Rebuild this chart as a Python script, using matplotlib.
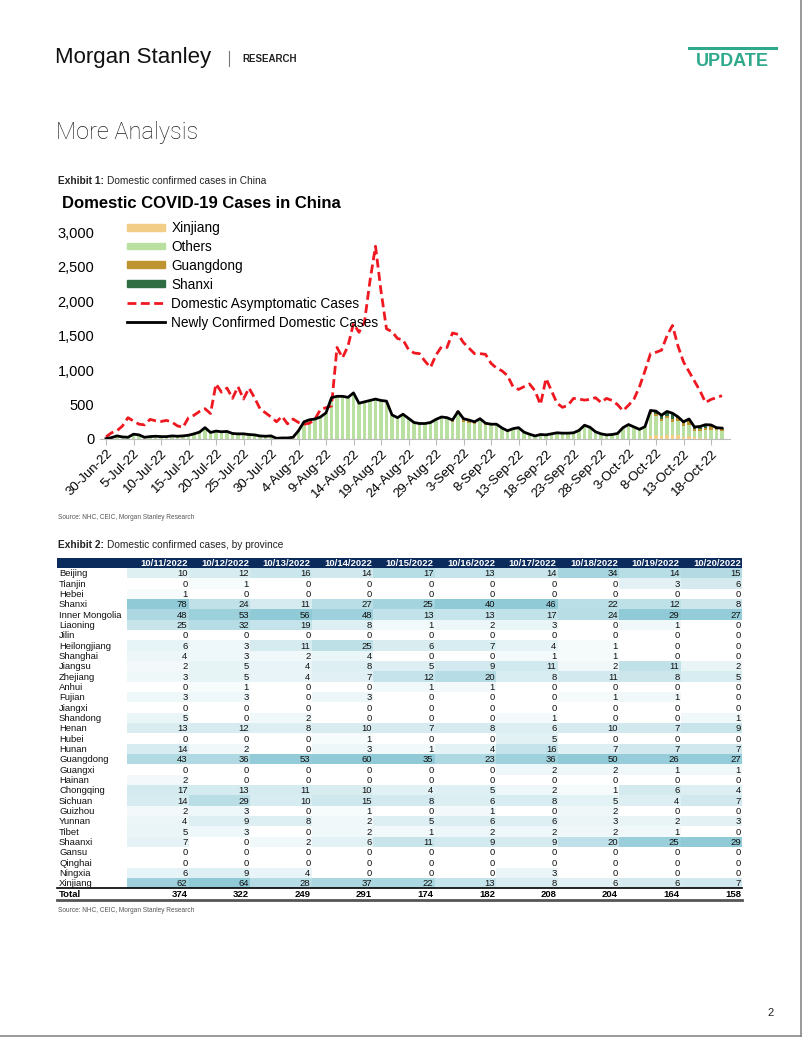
import numpy as np
import pandas as pd
import matplotlib
matplotlib.use("Agg")
from matplotlib import pyplot as plt
from matplotlib.patches import Rectangle, Patch
from matplotlib.lines import Line2D
from matplotlib.colors import LinearSegmentedColormap

plt.rcParams['font.family'] = ['Liberation Sans', 'DejaVu Sans']

# ---------------- data: exhibit 1 (daily, 30-Jun-22 .. 20-Oct-22) ----------------
dates = pd.date_range("2022-06-30", "2022-10-20", freq="D")

confirmed = [5, 20, 45, 30, 25, 70, 60, 25, 35, 40,
             35, 35, 45, 40, 45, 55, 75, 100, 165, 95,
             115, 105, 110, 80, 75, 75, 65, 60, 45, 40,
             45, 10, 15, 15, 25, 120, 250, 280, 290, 320,
             380, 600, 620, 620, 605, 670, 520, 540, 560, 580,
             560, 550, 350, 310, 360, 300, 240, 225, 225, 240,
             285, 320, 310, 275, 400, 295, 275, 250, 295, 230,
             215, 215, 160, 120, 150, 165, 100, 70, 45, 65,
             60, 75, 90, 85, 85, 90, 125, 200, 170, 105,
             75, 60, 65, 80, 165, 210, 175, 140, 180, 415,
             405, 345, 400, 374, 322, 249, 291, 174, 182, 208,
             204, 164, 158]

asymptomatic = [30, 90, 120, 190, 310, 260, 215, 205, 285, 265,
                255, 270, 245, 190, 170, 310, 345, 400, 440, 370,
                800, 680, 740, 590, 760, 580, 740, 600, 440, 380,
                320, 250, 330, 220, 290, 240, 215, 230, 290, 430,
                455, 480, 1330, 1180, 1350, 1680, 1550, 1700, 2300, 2800,
                2150, 1600, 1560, 1460, 1440, 1300, 1250, 1240, 1130, 1040,
                1220, 1340, 1330, 1540, 1520, 1400, 1320, 1240, 1240, 1230,
                1100, 1030, 990, 920, 760, 720, 760, 800, 700, 500,
                880, 700, 520, 460, 490, 590, 580, 565, 575, 600,
                530, 590, 560, 500, 410, 490, 580, 760, 990, 1240,
                1260, 1290, 1500, 1650, 1350, 1120, 980, 840, 700, 530,
                575, 600, 630]

# provincial split shown before the table period (estimated from the bars)
guangdong_sep = [30, 35, 45, 40, 30, 25, 20]      # 1-Sep .. 7-Sep
xinjiang_early_oct = [40, 55, 50, 60]             # 7-Oct .. 10-Oct
guangdong_early_oct = [20, 25, 30, 40]
shanxi_early_oct = [30, 40, 50, 60]

# ---------------- data: exhibit 2 ----------------
table_dates = ["10/11/2022", "10/12/2022", "10/13/2022", "10/14/2022", "10/15/2022",
               "10/16/2022", "10/17/2022", "10/18/2022", "10/19/2022", "10/20/2022"]
provinces = ["Beijing", "Tianjin", "Hebei", "Shanxi", "Inner Mongolia", "Liaoning", "Jilin",
             "Heilongjiang", "Shanghai", "Jiangsu", "Zhejiang", "Anhui", "Fujian", "Jiangxi",
             "Shandong", "Henan", "Hubei", "Hunan", "Guangdong", "Guangxi", "Hainan",
             "Chongqing", "Sichuan", "Guizhou", "Yunnan", "Tibet", "Shaanxi", "Gansu",
             "Qinghai", "Ningxia", "Xinjiang"]
province_cases = [
    [10, 12, 16, 14, 17, 13, 14, 34, 14, 15],
    [0, 1, 0, 0, 0, 0, 0, 0, 3, 6],
    [1, 0, 0, 0, 0, 0, 0, 0, 0, 0],
    [78, 24, 11, 27, 25, 40, 46, 22, 12, 8],
    [48, 53, 56, 48, 13, 13, 17, 24, 29, 27],
    [25, 32, 19, 8, 1, 2, 3, 0, 1, 0],
    [0, 0, 0, 0, 0, 0, 0, 0, 0, 0],
    [6, 3, 11, 25, 6, 7, 4, 1, 0, 0],
    [4, 3, 2, 4, 0, 0, 1, 1, 0, 0],
    [2, 5, 4, 8, 5, 9, 11, 2, 11, 2],
    [3, 5, 4, 7, 12, 20, 8, 11, 8, 5],
    [0, 1, 0, 0, 1, 1, 0, 0, 0, 0],
    [3, 3, 0, 3, 0, 0, 0, 1, 1, 0],
    [0, 0, 0, 0, 0, 0, 0, 0, 0, 0],
    [5, 0, 2, 0, 0, 0, 1, 0, 0, 1],
    [13, 12, 8, 10, 7, 8, 6, 10, 7, 9],
    [0, 0, 0, 1, 0, 0, 5, 0, 0, 0],
    [14, 2, 0, 3, 1, 4, 16, 7, 7, 7],
    [43, 36, 53, 60, 35, 23, 36, 50, 26, 27],
    [0, 0, 0, 0, 0, 0, 2, 2, 1, 1],
    [2, 0, 0, 0, 0, 0, 0, 0, 0, 0],
    [17, 13, 11, 10, 4, 5, 2, 1, 6, 4],
    [14, 29, 10, 15, 8, 6, 8, 5, 4, 7],
    [2, 3, 0, 1, 0, 1, 0, 2, 0, 0],
    [4, 9, 8, 2, 5, 6, 6, 3, 2, 3],
    [5, 3, 0, 2, 1, 2, 2, 2, 1, 0],
    [7, 0, 2, 6, 11, 9, 9, 20, 25, 29],
    [0, 0, 0, 0, 0, 0, 0, 0, 0, 0],
    [0, 0, 0, 0, 0, 0, 0, 0, 0, 0],
    [6, 9, 4, 0, 0, 0, 3, 0, 0, 0],
    [62, 64, 28, 37, 22, 13, 8, 6, 6, 7],
]
totals = [374, 322, 249, 291, 174, 182, 208, 204, 164, 158]

# ---------------- build chart series ----------------
n = len(dates)
x = np.arange(n)
confirmed = np.array(confirmed, dtype=float)
asymptomatic = np.array(asymptomatic, dtype=float)
cases = np.array(province_cases, dtype=float)

xinjiang = np.zeros(n)
guangdong = np.zeros(n)
shanxi = np.zeros(n)
sep1 = dates.get_loc(pd.Timestamp("2022-09-01"))
oct7 = dates.get_loc(pd.Timestamp("2022-10-07"))
guangdong[sep1:sep1 + len(guangdong_sep)] = guangdong_sep
xinjiang[oct7:oct7 + 4] = xinjiang_early_oct
guangdong[oct7:oct7 + 4] = guangdong_early_oct
shanxi[oct7:oct7 + 4] = shanxi_early_oct
xinjiang[-10:] = cases[provinces.index("Xinjiang")]
guangdong[-10:] = cases[provinces.index("Guangdong")]
shanxi[-10:] = cases[provinces.index("Shanxi")]
others = confirmed - xinjiang - guangdong - shanxi

W, H = 802, 1037
fig = plt.figure(figsize=(W / 100, H / 100), dpi=100)

# page canvas in pixel units
page = fig.add_axes([0, 0, 1, 1])
page.set_xlim(0, W)
page.set_ylim(H, 0)
page.axis('off')

teal = '#2EA98C'
page.text(55, 58, "Morgan Stanley", fontsize=16, va='center', ha='left', color='#111111')
page.plot([229, 229], [51, 66], color='#777777', lw=0.8)
page.text(242, 58.5, "RESEARCH", fontsize=7, fontweight='bold', va='center', ha='left', color='#222222')
page.plot([689, 776], [48, 48], color=teal, lw=2.2)
page.text(732.5, 61, "UPDATE", fontsize=13, fontweight='bold', va='center', ha='center', color=teal)
page.text(56, 133, "More Analysis", fontsize=17, va='center', ha='left', color='#222222',
          family=['Roboto', 'DejaVu Sans'], fontweight='light')

page.text(58, 181, "Exhibit 1:", fontsize=7.3, fontweight='bold', va='center', ha='left', color='#222222')
page.text(107, 181, "Domestic confirmed cases in China", fontsize=7.3, va='center', ha='left', color='#222222')
page.text(58, 517.5, "Source: NHC, CEIC, Morgan Stanley Research", fontsize=4.7, va='center', ha='left', color='#555555')
page.text(58, 545, "Exhibit 2:", fontsize=7.3, fontweight='bold', va='center', ha='left', color='#222222')
page.text(107, 545, "Domestic confirmed cases, by province", fontsize=7.3, va='center', ha='left', color='#222222')
page.text(58, 911, "Source: NHC, CEIC, Morgan Stanley Research", fontsize=4.7, va='center', ha='left', color='#555555')
page.text(771, 1013, "2", fontsize=8, va='center', ha='center', color='#222222')
page.plot([800.5, 800.5], [0, H], color='#888888', lw=1.2)
page.plot([0, W], [1036, 1036], color='#888888', lw=1.2)

page.text(62, 204, "Domestic COVID-19 Cases in China", fontsize=12, fontweight='bold', va='center', ha='left')

# ---------------- exhibit 1 chart ----------------
ax = fig.add_axes([100 / W, 1 - 439 / H, 630 / W, 206.5 / H])
ax.set_xlim((100 - 106) / 5.5, (730 - 106) / 5.5)
ax.set_ylim(0, 3000)

c_xj, c_oth, c_gd, c_sx = '#F2CD88', '#B9E0A0', '#BE9430', '#2F6E42'
bw = 0.6
bottom = np.zeros(n)
for vals, col in [(xinjiang, c_xj), (others, c_oth), (guangdong, c_gd), (shanxi, c_sx)]:
    ax.bar(x, vals, bottom=bottom, width=bw, color=col, linewidth=0)
    bottom = bottom + vals
ax.plot(x, asymptomatic, color='#F01820', lw=2.0, dashes=(3.2, 1.6))
ax.plot(x, confirmed, color='black', lw=2.0)

ax.set_yticks(np.arange(0, 3001, 500))
ax.set_yticklabels([f"{v:,}" for v in range(0, 3001, 500)], fontsize=10.5)
ax.tick_params(axis='y', length=0, pad=4)
ax.set_xticks(x[::5])
ax.set_xticklabels([f"{d.day}-{d:%b-%y}" for d in dates[::5]], rotation=45, ha='right',
                   rotation_mode='anchor', fontsize=9.5)
ax.tick_params(axis='x', length=4, color='#BBBBBB', pad=2)
for s in ['top', 'right', 'left']:
    ax.spines[s].set_visible(False)
ax.spines['bottom'].set_color('#BBBBBB')
ax.patch.set_alpha(0)

handles = [Patch(color=c_xj), Patch(color=c_oth), Patch(color=c_gd), Patch(color=c_sx),
           Line2D([], [], color='#F01820', lw=2.0, dashes=(3.2, 1.6)),
           Line2D([], [], color='black', lw=2.0)]
labels = ["Xinjiang", "Others", "Guangdong", "Shanxi",
          "Domestic Asymptomatic Cases", "Newly Confirmed Domestic Cases"]
ax.legend(handles, labels, loc='upper left', bbox_to_anchor=(127 / W, 1 - 221 / H),
          bbox_transform=fig.transFigure, frameon=False, fontsize=9.8, handlelength=2.8,
          handleheight=0.4, handletextpad=0.45, labelspacing=0.36, borderpad=0, borderaxespad=0)

# ---------------- exhibit 2 table ----------------
row_h = 10.33
first_row = 573.3
tab_left, tab_right = 57, 742
col_w = 61.5
col_right0 = 188.5
navy = '#0B2B5C'
cmap = LinearSegmentedColormap.from_list('shade', ['#FFFFFF', '#90CAD7'])
colmax = cases.max(axis=0)

hy = first_row - row_h
page.add_patch(Rectangle((tab_left, hy - row_h / 2), tab_right - tab_left, row_h, color=navy, lw=0))
for j, lab in enumerate(table_dates):
    page.text(col_right0 + col_w * j - 1, hy + 0.5, lab, fontsize=6.8, fontweight='bold', color='white',
              ha='right', va='center')

for i, prov in enumerate(provinces):
    yc = first_row + row_h * i
    page.text(59, yc + 0.5, prov, fontsize=6.8, ha='left', va='center', color='#111111')
    for j in range(len(table_dates)):
        v = cases[i, j]
        frac = (v / colmax[j]) ** 0.6 if colmax[j] > 0 else 0
        page.add_patch(Rectangle((col_right0 - col_w + col_w * j, yc - row_h / 2), col_w, row_h,
                                 color=cmap(frac), lw=0))
        page.text(col_right0 + col_w * j - 1, yc + 0.5, f"{int(v)}", fontsize=6.8, ha='right', va='center',
                  color='#111111')

ty = first_row + row_h * len(provinces)
page.plot([tab_left, tab_right], [ty - row_h / 2, ty - row_h / 2], color='black', lw=1.2)
page.plot([tab_left, tab_right], [ty + row_h / 2 + 1, ty + row_h / 2 + 1], color='#555555', lw=2.0)
page.text(59, ty + 0.5, "Total", fontsize=6.8, fontweight='bold', ha='left', va='center')
for j, t in enumerate(totals):
    page.text(col_right0 + col_w * j - 1, ty + 0.5, f"{t}", fontsize=6.8, fontweight='bold',
              ha='right', va='center')

fig.savefig("out.png", dpi=100)
